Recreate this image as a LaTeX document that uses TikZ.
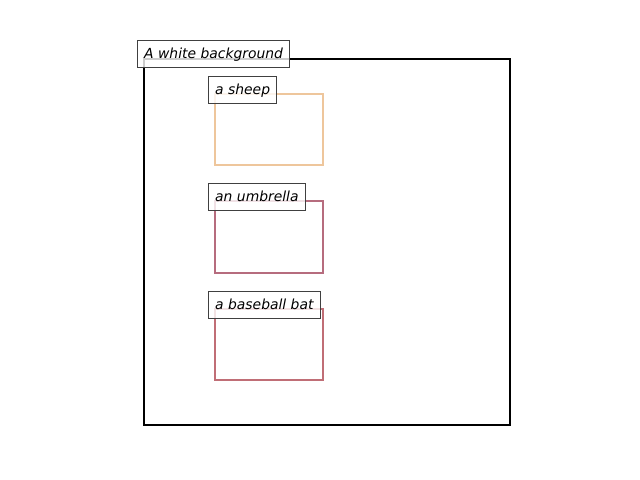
\documentclass[tikz,border=0pt]{standalone}
\usepackage{fontspec}
\setmainfont{DejaVu Sans}
\definecolor{sheepc}{RGB}{238,198,156}
\definecolor{umbrc}{RGB}{182,108,126}
\definecolor{batc}{RGB}{192,110,118}
\begin{document}
\begin{tikzpicture}[x=0.72pt,y=-0.72pt,every node/.style={font=\itshape\fontsize{10}{12}\selectfont},
  tag/.style={draw=black!75,fill=white,fill opacity=0.8,text opacity=1,anchor=west,inner xsep=4.8pt,inner ysep=0pt,
    text height=8.5pt,text depth=2pt,minimum height=20pt,line width=0.8pt}]
  \useasboundingbox (0,0) rectangle (640,480);
  \draw[line width=1.6pt,black] (144,59) rectangle (510,425);
  \draw[line width=1.6pt,sheepc] (215,94) rectangle (323,165);
  \draw[line width=1.6pt,umbrc] (215,201) rectangle (323,273);
  \draw[line width=1.6pt,batc] (215,309) rectangle (323,380);
  \node[tag] (bg) at (137,54) {A white background};
  \node[tag] (sheep) at (208,90) {a sheep};
  \node[tag] (umbrella) at (208,197) {an umbrella};
  \node[tag] (bat) at (208,305) {a baseball bat};
\end{tikzpicture}
\end{document}
